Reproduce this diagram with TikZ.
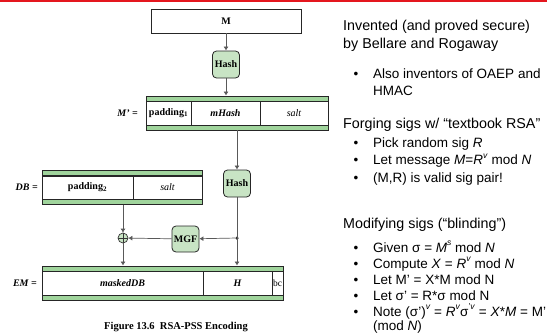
\documentclass[tikz,border=0pt]{standalone}
\usepackage{fontspec}
\setmainfont{Liberation Serif}
\newfontfamily\slidefont{Liberation Sans}
\usetikzlibrary{arrows.meta}
\definecolor{barGreen}{RGB}{160,212,156}
\definecolor{boxGreen}{RGB}{200,228,196}
\definecolor{slideRed}{RGB}{228,22,30}
\newcommand{\upidx}[1]{\raisebox{0.85ex}{\fontsize{8.5}{9}\selectfont #1}}
\tikzset{
  field/.style={draw=black!85,line width=0.8pt,minimum height=24pt,inner sep=0pt,
    font=\bfseries\fontsize{10}{12}\selectfont},
  bar/.style={draw=black!85,line width=0.8pt,fill=barGreen,minimum height=5pt,inner sep=0pt},
  func/.style={draw=black!85,line width=0.8pt,fill=boxGreen,rounded corners=4pt,
    minimum width=27pt,minimum height=27pt,inner sep=0pt,font=\bfseries\fontsize{10}{11}\selectfont},
  flow/.style={draw=black!65,line width=0.7pt,-{Latex[length=4pt,width=5pt]}},
  lbl/.style={anchor=east,inner sep=0pt,font=\bfseries\itshape\fontsize{10}{12}\selectfont},
  txt/.style={anchor=base west,inner sep=0pt,font=\slidefont\fontsize{14.3}{17}\selectfont},
  itm/.style={anchor=base west,inner sep=0pt,font=\slidefont\fontsize{13.5}{16}\selectfont},
  dotb/.style={anchor=base,inner sep=0pt,font=\slidefont\fontsize{13.5}{16}\selectfont},
}
\begin{document}
\begin{tikzpicture}[x=1pt,y=-1pt]
\useasboundingbox (0,0) rectangle (547,333);
\draw[slideRed,line width=2.5pt] (0,1) -- (547,1);
% message and first hash
\node[field,minimum width=150pt] (msg) at (226,21) {M};
\node[func] (hash1) at (226,64.5) {Hash};
% M'
\node[bar,minimum width=182pt] (mpTop) at (237,98.5) {};
\node[field,minimum width=45pt] (pad1) at (168.5,113) {padding\textsubscript{1}};
\node[field,minimum width=69pt,font=\bfseries\itshape\fontsize{10}{12}\selectfont] (mhash) at (225.5,113) {mHash};
\node[field,minimum width=68pt,font=\itshape\fontsize{10}{12}\selectfont] (salt1) at (294,113) {salt};
\node[bar,minimum width=182pt] (mpBot) at (237,127.5) {};
\node[lbl] (mpLbl) at (138,113) {M' =};
% second hash, MGF
\node[func] (hash2) at (237,183.5) {Hash};
\node[func,minimum height=26pt] (mgf) at (185.5,239) {MGF};
\node[circle,fill=black!80,inner sep=0pt,minimum size=3.5pt] (split) at (237,238) {};
% DB
\node[bar,minimum width=160pt] (dbTop) at (122,173) {};
\node[field,minimum width=91pt,minimum height=23pt] (pad2) at (87.5,187.5) {padding\textsubscript{2}};
\node[field,minimum width=69pt,minimum height=23pt,font=\itshape\fontsize{10}{12}\selectfont] (salt2) at (167.5,187.5) {salt};
\node[bar,minimum width=160pt] (dbBot) at (122,202) {};
\node[lbl] (dbLbl) at (38,187.5) {DB =};
\node[circle,draw=black!80,line width=0.7pt,fill=boxGreen,minimum size=10pt,inner sep=0pt,
  path picture={\draw[black!80,line width=0.7pt]
    (path picture bounding box.north) -- (path picture bounding box.south)
    (path picture bounding box.west) -- (path picture bounding box.east);}] (xor) at (123,238) {};
% EM
\node[bar,minimum width=241pt] (emTop) at (162.5,268.5) {};
\node[field,minimum width=161pt,font=\bfseries\itshape\fontsize{10}{12}\selectfont] (masked) at (122.5,283) {maskedDB};
\node[field,minimum width=69pt,font=\bfseries\itshape\fontsize{10}{12}\selectfont] (hfield) at (237.5,283) {H};
\node[field,minimum width=11pt,font=\fontsize{9.5}{11}\selectfont] (bc) at (277.5,283) {bc};
\node[bar,minimum width=241pt] (emBot) at (162.5,298) {};
\node[lbl] (emLbl) at (37,283) {EM =};
\node[inner sep=0pt,font=\bfseries\fontsize{10.5}{12}\selectfont] (caption) at (176,327) {Figure 13.6\enspace RSA-PSS Encoding};
% flow
\draw[flow] (msg) -- (hash1);
\draw[flow] (hash1) -- (hash1 |- mpTop.north);
\draw[flow] (mpBot.south -| hash2) -- (hash2);
\draw[flow] (hash2) -- (hash2 |- emTop.north);
\draw[flow] (split) -- (mgf);
\draw[flow] (mgf) -- (xor);
\draw[flow] (dbBot.south -| xor) -- (xor);
\draw[flow] (xor) -- (xor |- emTop.north);
% notes
\node[txt] (inv1) at (343,30.5) {Invented (and proved secure)};
\node[txt] (inv2) at (343,48.5) {by Bellare and Rogaway};
\node[dotb] (b1) at (356,78) {\textbullet};
\node[itm] (also1) at (373,78) {Also inventors of OAEP and};
\node[itm] (also2) at (373,95) {HMAC};
\node[txt] (forge) at (343,128.5) {Forging sigs w/ “textbook RSA”};
\node[dotb] (b2) at (356,147) {\textbullet};
\node[itm] (pick) at (373,147) {Pick random sig \textit{R}};
\node[dotb] (b3) at (356,164.5) {\textbullet};
\node[itm] (letmsg) at (373,164.5) {Let message \textit{M}=\textit{R}\upidx{\textit{v}} mod \textit{N}};
\node[dotb] (b4) at (356,182) {\textbullet};
\node[itm] (valid) at (373,182) {(M,R) is valid sig pair!};
\node[txt] (modif) at (343,228.5) {Modifying sigs (“blinding”)};
\node[dotb] (b5) at (356,252) {\textbullet};
\node[itm] (given) at (373,252) {Given σ = \textit{M}\upidx{\textit{s}} mod \textit{N}};
\node[dotb] (b6) at (356,268) {\textbullet};
\node[itm] (comp) at (373,268) {Compute \textit{X} = \textit{R}\upidx{\textit{v}} mod \textit{N}};
\node[dotb] (b7) at (356,284) {\textbullet};
\node[itm] (letm) at (373,284) {Let M’ = X*M mod N};
\node[dotb] (b8) at (356,300) {\textbullet};
\node[itm] (lets) at (373,300) {Let σ’ = R*σ mod N};
\node[dotb] (b9) at (356,316) {\textbullet};
\node[itm] (note1) at (373,316) {Note (σ’)\upidx{\textit{v}} = \textit{R}\upidx{\textit{v}}σ\upidx{’\textit{v}} = \textit{X}*\textit{M} = M’};
\node[itm] (note2) at (373,330) {(mod \textit{N})};
\end{tikzpicture}
\end{document}
